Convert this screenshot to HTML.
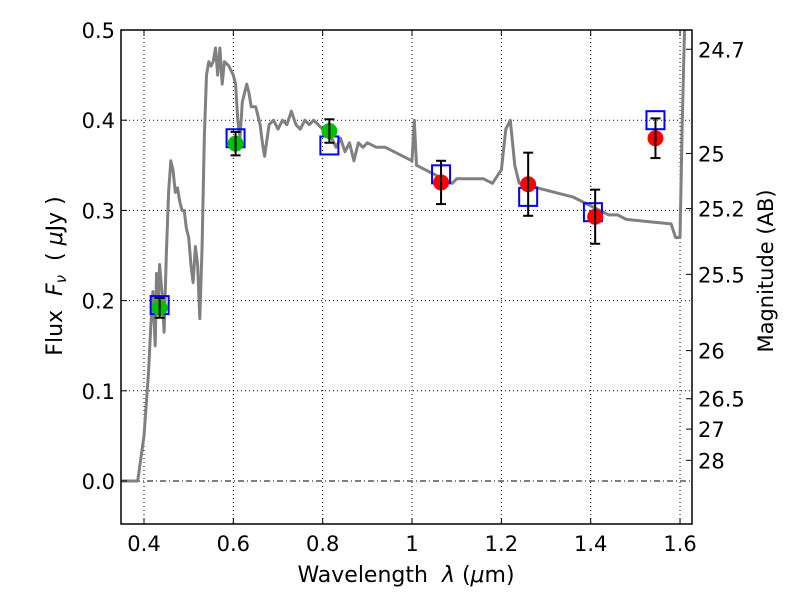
<!DOCTYPE html>
<html><head><meta charset="utf-8"><style>
body{margin:0;background:#fff}
svg text{font-family:"DejaVu Sans","Liberation Sans",sans-serif;fill:#000}
</style></head><body>
<svg id="c" width="800" height="600" xmlns="http://www.w3.org/2000/svg"></svg>
<script>
const specW=[0.35,0.386,0.40,0.41,0.415,0.42,0.425,0.428,0.432,0.435,0.44,0.445,0.45,0.455,0.46,0.465,0.47,0.475,0.48,0.485,0.49,0.495,0.5,0.505,0.51,0.515,0.52,0.525,0.53,0.535,0.54,0.545,0.55,0.555,0.56,0.565,0.57,0.575,0.58,0.59,0.6,0.605,0.61,0.615,0.62,0.625,0.63,0.635,0.64,0.65,0.66,0.665,0.67,0.68,0.69,0.70,0.71,0.72,0.73,0.74,0.75,0.76,0.77,0.78,0.79,0.8,0.81,0.82,0.83,0.84,0.85,0.86,0.87,0.88,0.89,0.9,0.92,0.94,0.96,0.98,1.0,1.005,1.01,1.03,1.05,1.07,1.09,1.1,1.12,1.14,1.16,1.18,1.2,1.21,1.22,1.23,1.24,1.26,1.28,1.32,1.36,1.40,1.44,1.46,1.48,1.52,1.56,1.58,1.59,1.6,1.605,1.61,1.615];
const specF=[0,0,0.05,0.12,0.17,0.21,0.15,0.23,0.2,0.24,0.21,0.165,0.25,0.32,0.355,0.345,0.32,0.325,0.31,0.3,0.3,0.28,0.27,0.24,0.22,0.26,0.24,0.18,0.26,0.38,0.45,0.465,0.46,0.465,0.48,0.45,0.48,0.44,0.465,0.46,0.45,0.44,0.40,0.38,0.42,0.43,0.44,0.43,0.415,0.415,0.395,0.375,0.36,0.395,0.40,0.39,0.40,0.395,0.41,0.395,0.39,0.40,0.395,0.40,0.395,0.39,0.385,0.38,0.37,0.38,0.365,0.375,0.355,0.375,0.37,0.375,0.37,0.37,0.365,0.36,0.355,0.40,0.35,0.345,0.34,0.335,0.33,0.335,0.335,0.335,0.335,0.33,0.345,0.39,0.40,0.35,0.33,0.33,0.325,0.32,0.315,0.305,0.295,0.295,0.29,0.288,0.286,0.285,0.27,0.27,0.4,0.5,0.55];
const obsW=[0.435,0.605,0.815,1.065,1.26,1.41,1.545];
const obsF=[0.192,0.374,0.388,0.331,0.329,0.293,0.380];
const obsErr=[0.011,0.013,0.013,0.024,0.035,0.03,0.022];
const obsColor=["#00c000","#00c000","#00c000","red","red","red","red"];
const modW=[0.435,0.605,0.815,1.065,1.26,1.405,1.545];
const modF=[0.195,0.38,0.372,0.34,0.315,0.298,0.40];
const xTicks=[0.4,0.6,0.8,1,1.2,1.4,1.6];
const yTicks=[0,0.1,0.2,0.3,0.4,0.5];
const magTicks=[24.7,25,25.2,25.5,26,26.5,27,28];

const L=121,R=692,T=30,B=524;
const X=w=>144+(w-0.4)*446.7;
const Y=f=>481-f*902;
const svg=document.getElementById('c');
const NS='http://www.w3.org/2000/svg';
function mk(t,a,p){const e=document.createElementNS(NS,t);for(const k in a)e.setAttribute(k,a[k]);(p||svg).appendChild(e);return e;}

const grid=mk('g',{});


xTicks.forEach(v=>{mk('line',{x1:X(v),x2:X(v),y1:T,y2:B,stroke:'#000','stroke-width':1,'stroke-dasharray':'1,3'},grid);});
yTicks.forEach(v=>{if(v!==0)mk('line',{x1:L,x2:R,y1:Y(v),y2:Y(v),stroke:'#000','stroke-width':1,'stroke-dasharray':'1,3'},grid);});
const zl=mk('line',{x1:L,x2:R,y1:Y(0),y2:Y(0),stroke:'#000','stroke-width':1,'stroke-dasharray':'6,3,1,3'});



const cp=mk('clipPath',{id:'cl'});mk('rect',{x:L,y:T,width:R-L,height:B-T},cp);
let d='';specW.forEach((w,i)=>{d+=(i?'L':'M')+X(w).toFixed(1)+','+Y(specF[i]).toFixed(1);});
const sp=mk('path',{d:d,fill:'none',stroke:'#808080','stroke-width':3,'stroke-linejoin':'round','clip-path':'url(#cl)'});



modW.forEach((w,i)=>{
 const r=mk('rect',{x:X(w)-9,y:Y(modF[i])-9,width:18,height:18,fill:'none',stroke:'#0000ff','stroke-width':2});
 
 
});
obsW.forEach((w,i)=>{
 const g=mk('g',{});
 
 
 const x=X(w),y=Y(obsF[i]);
 mk('circle',{cx:x,cy:y,r:8,fill:obsColor[i]},g);
 const y1=Y(obsF[i]+obsErr[i]),y2=Y(obsF[i]-obsErr[i]);
 mk('line',{x1:x,x2:x,y1:y1,y2:y2,stroke:'#000','stroke-width':2},g);
 mk('line',{x1:x-5,x2:x+5,y1:y1,y2:y1,stroke:'#000','stroke-width':2},g);
 mk('line',{x1:x-5,x2:x+5,y1:y2,y2:y2,stroke:'#000','stroke-width':2},g);
});

mk('rect',{x:L,y:T,width:R-L,height:B-T,fill:'none',stroke:'#000','stroke-width':1.5});

xTicks.forEach(v=>{
 mk('line',{x1:X(v),x2:X(v),y1:B,y2:B-6,stroke:'#000'});mk('line',{x1:X(v),x2:X(v),y1:T,y2:T+6,stroke:'#000'});
 const t=mk('text',{x:X(v),y:B+27,'font-size':21,'text-anchor':'middle'});t.textContent=v;
 
});
yTicks.forEach(v=>{
 mk('line',{x1:L,x2:L+6,y1:Y(v),y2:Y(v),stroke:'#000'});
 const t=mk('text',{x:L-6,y:Y(v)+8,'font-size':21,'text-anchor':'end'});t.textContent=v.toFixed(1);
 
});
magTicks.forEach(m=>{
 const f=Math.pow(10,(23.9-m)/2.5);const y=Y(f);
 mk('line',{x1:R,x2:R-6,y1:y,y2:y,stroke:'#000'});
 const t=mk('text',{x:R+6,y:y+8,'font-size':21});t.textContent=m;
 
});

const xt=mk('text',{x:406,y:582,'font-size':22,'text-anchor':'middle','xml:space':'preserve'});
xt.innerHTML='Wavelength&#160;&#160;<tspan font-style="italic">λ</tspan> (<tspan font-style="italic">μ</tspan>m)';

const yt=mk('text',{x:0,y:0,'font-size':22,'text-anchor':'middle',transform:'translate(62,276) rotate(-90)'});
yt.innerHTML='Flux&#160;&#160;<tspan font-style="italic">F</tspan><tspan font-style="italic" font-size="15" dy="4">ν</tspan><tspan dy="-4">&#160;&#160;( </tspan><tspan font-style="italic">μ</tspan>Jy )';

const rt=mk('text',{x:0,y:0,'font-size':21,'text-anchor':'middle',transform:'translate(773,271) rotate(-90)'});
rt.textContent='Magnitude (AB)';

</script>
</body></html>
